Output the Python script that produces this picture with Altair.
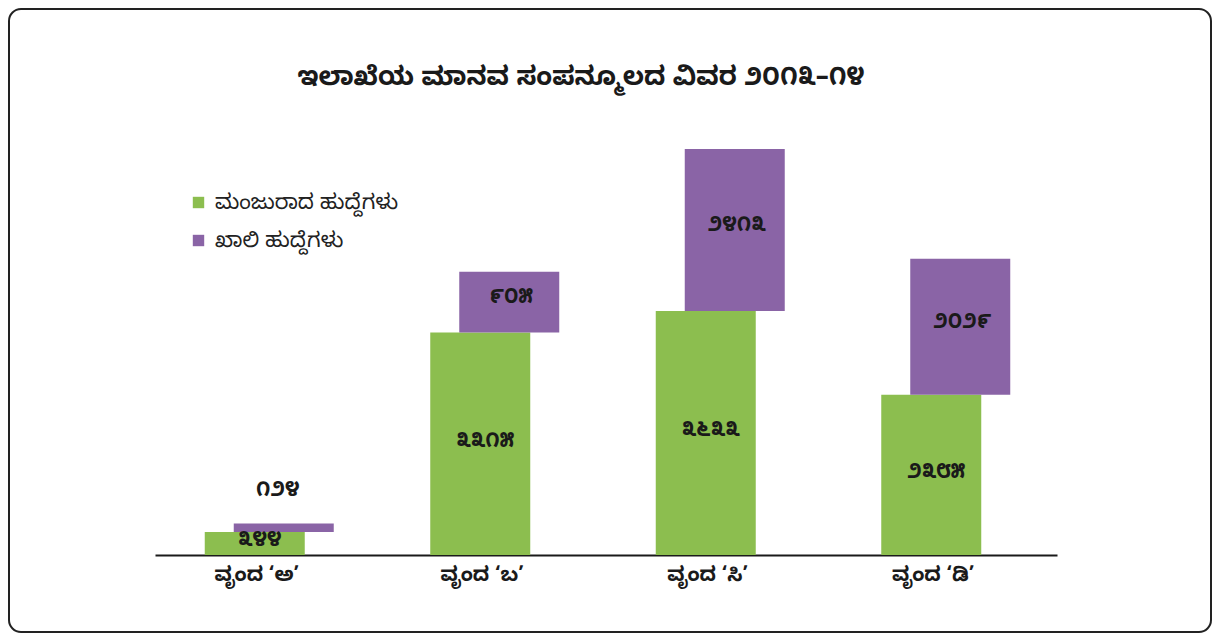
import altair as alt
import pandas as pd

categories = ["ವೃಂದ ‘ಅ’", "ವೃಂದ ‘ಬ’", "ವೃಂದ ‘ಸಿ’", "ವೃಂದ ‘ಡಿ’"]
sanctioned = [344, 3315, 3633, 2385]
vacant = [124, 905, 2413, 2029]
series_names = ["ಮಂಜುರಾದ ಹುದ್ದೆಗಳು", "ಖಾಲಿ ಹುದ್ದೆಗಳು"]
series_colors = ["#8CBE4F", "#8A64A6"]
title_text = ["ಇಲಾಖೆಯ ಮಾನವ ಸಂಪನ್ಮೂಲದ ವಿವರ ೨೦೧೩–೧೪"]

KN = str.maketrans("0123456789", "೦೧೨೩೪೫೬೭೮೯")
FONT = "Noto Sans Kannada, Noto Sans, sans-serif"

df = pd.DataFrame({
    "cat": categories,
    "s": sanctioned,
    "v": vacant,
})
df["top"] = df["s"] + df["v"]
df["smid"] = df["s"] / 2
df["vmid"] = df["s"] + df["v"] / 2
df["slab"] = [str(x).translate(KN) for x in sanctioned]
df["vlab"] = [str(x).translate(KN) for x in vacant]
df["small"] = df["v"] < 300
df["gname"] = series_names[0]
df["pname"] = series_names[1]

W, H = 902, 425
YMAX = 6330

xenc = alt.X("cat:N", sort=categories,
             scale=alt.Scale(paddingInner=0, paddingOuter=0),
             axis=alt.Axis(title=None, ticks=False, domainColor="#1a1a1a",
                           domainWidth=2, labelFontSize=20, labelFontWeight="bold",
                           labelColor="#1a1a1a", labelPadding=9, labelOffset=-11,
                           labelFont=FONT, labelAngle=0))
yscale = alt.Scale(domain=[0, YMAX])
color_scale = alt.Scale(domain=series_names, range=series_colors)
legend = alt.Legend(title=None, orient="none", legendX=33, legendY=62,
                    symbolType="square", symbolSize=130, symbolStrokeWidth=0,
                    labelFontSize=21, labelFont=FONT, labelColor="#222",
                    rowPadding=16, labelOffset=6, labelLimit=0)

base = alt.Chart(df)

green = base.mark_bar(size=100, xOffset=-13).encode(
    x=xenc,
    y=alt.Y("s:Q", scale=yscale, axis=None),
    y2=alt.datum(0),
    color=alt.Color("gname:N", scale=color_scale, legend=legend),
)
purple = base.mark_bar(size=100, xOffset=16).encode(
    x=xenc,
    y=alt.Y("s:Q", scale=yscale, axis=None),
    y2="top:Q",
    color=alt.Color("pname:N", scale=color_scale, legend=legend),
)
txt_style = dict(fontSize=21, fontWeight="bold", font=FONT, color="#1a1a1a", baseline="middle")
glab = base.mark_text(xOffset=-8, dy=-3, **txt_style).encode(
    x=xenc, y=alt.Y("smid:Q", scale=yscale), text="slab:N")
vlab_big = base.transform_filter("!datum.small").mark_text(xOffset=18, dy=-5, **txt_style).encode(
    x=xenc, y=alt.Y("vmid:Q", scale=yscale), text="vlab:N")
vlab_small = base.transform_filter("datum.small").mark_text(xOffset=10, dy=-34, **txt_style).encode(
    x=xenc, y=alt.Y("top:Q", scale=yscale), text="vlab:N")

border = alt.Chart(pd.DataFrame({"a": [0]})).mark_rect(
    filled=False, stroke="#222", strokeWidth=2, cornerRadius=12
).encode(x=alt.value(-146), x2=alt.value(1056), y=alt.value(-121), y2=alt.value(502))

title = alt.Chart(pd.DataFrame({"t": title_text})).mark_text(
    fontSize=26, fontWeight="bold", font=FONT, color="#1a1a1a",
    align="center", baseline="middle"
).encode(x=alt.value(426), y=alt.value(-53), text="t:N")

chart = alt.layer(border, title, green, purple, glab, vlab_big, vlab_small).properties(
    width=W, height=H,
    autosize=alt.AutoSizeParams(type="none"),
    padding={"left": 147, "top": 122, "right": 155, "bottom": 79},
).configure(background="white").configure_view(strokeWidth=0, stroke="transparent")

chart.save("out.html", embed_options={"renderer": "svg", "actions": False})
